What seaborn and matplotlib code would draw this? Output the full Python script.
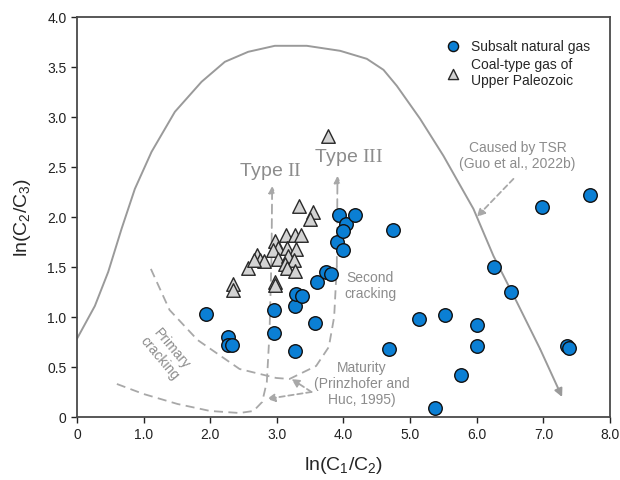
import numpy as np
import pandas as pd
import matplotlib
matplotlib.use("Agg")
import matplotlib.pyplot as plt
import seaborn as sns

sns.set_theme(style="ticks")
plt.rcParams['font.family'] = ['Liberation Sans', 'DejaVu Sans']
plt.rcParams['mathtext.fontset'] = 'custom'
plt.rcParams['mathtext.rm'] = 'Liberation Sans'
plt.rcParams['mathtext.it'] = 'Liberation Sans'
plt.rcParams['mathtext.tt'] = 'Liberation Serif'

# Subsalt natural gas
sub_x = [1.93, 2.27, 2.27, 2.33, 2.96, 2.96, 3.28, 3.28, 3.29, 3.38, 3.57, 3.61,
         3.74, 3.82, 3.90, 3.93, 4.04, 3.99, 3.99, 4.17, 4.75, 4.69, 5.13, 5.38,
         5.52, 5.76, 6.00, 6.00, 6.26, 6.51, 6.98, 7.70, 7.36, 7.39]
sub_y = [1.03, 0.80, 0.715, 0.715, 1.07, 0.84, 0.655, 1.11, 1.23, 1.21, 0.94, 1.35,
         1.45, 1.43, 1.75, 2.02, 1.93, 1.86, 1.67, 2.02, 1.87, 0.68, 0.98, 0.09,
         1.02, 0.42, 0.92, 0.705, 1.50, 1.25, 2.10, 2.22, 0.71, 0.69]

# Coal-type gas of Upper Paleozoic
coal_x = [3.77, 3.34, 3.55, 3.50, 3.14, 3.27, 3.37, 2.97, 3.02, 2.95, 3.16, 3.29,
          2.70, 2.75, 2.80, 3.02, 3.17, 3.26, 3.12, 3.15, 2.56, 3.28, 2.97, 2.34,
          2.34, 2.97, 2.65]
coal_y = [2.81, 2.11, 2.05, 1.98, 1.82, 1.82, 1.82, 1.76, 1.69, 1.67, 1.69, 1.68,
          1.62, 1.57, 1.56, 1.58, 1.61, 1.57, 1.53, 1.49, 1.49, 1.46, 1.35, 1.33,
          1.27, 1.32, 1.57]

# Outer envelope (solid gray), ends with arrow
env_x = [0.0, 0.27, 0.47, 0.67, 0.87, 1.12, 1.47, 1.87, 2.22, 2.57, 2.97, 3.45,
         3.95, 4.35, 4.60, 4.80, 5.15, 5.50, 5.95, 6.25, 6.60, 6.95, 7.28]
env_y = [0.78, 1.11, 1.45, 1.88, 2.28, 2.65, 3.05, 3.35, 3.55, 3.65, 3.71, 3.71,
         3.66, 3.58, 3.47, 3.31, 2.98, 2.61, 2.08, 1.61, 1.15, 0.68, 0.20]

# Lower dashed curve -> Type II arrow
t2_x = [0.60, 1.00, 1.51, 2.00, 2.44, 2.65, 2.78, 2.85, 2.89, 2.92, 2.93]
t2_y = [0.33, 0.23, 0.13, 0.06, 0.04, 0.06, 0.15, 0.35, 0.84, 1.60, 2.31]

# Upper dashed curve -> Type III arrow
t3_x = [1.11, 1.39, 1.81, 2.44, 2.99, 3.19, 3.59, 3.78, 3.86, 3.90, 3.91]
t3_y = [1.48, 1.07, 0.77, 0.48, 0.39, 0.38, 0.51, 0.70, 1.00, 1.51, 2.41]

df_sub = pd.DataFrame({"x": sub_x, "y": sub_y})
df_coal = pd.DataFrame({"x": coal_x, "y": coal_y})

fig = plt.figure(figsize=(6.2, 4.81), dpi=100)
ax = fig.add_axes([0.124, 0.131, 0.86, 0.832])

gray = "#9a9a9a"
ax.plot(env_x[:-1], env_y[:-1], color=gray, lw=1.4, zorder=1,
        solid_joinstyle="round")
ax.annotate("", xy=(env_x[-1], env_y[-1]), xytext=(env_x[-2], env_y[-2]),
            arrowprops=dict(arrowstyle="-|>", color=gray, lw=1.4,
                            mutation_scale=12, shrinkA=0, shrinkB=0), zorder=1)

dgray = "#a8a8a8"
for cx, cy in [(t2_x, t2_y), (t3_x, t3_y)]:
    ax.plot(cx[:-1], cy[:-1], color=dgray, lw=1.3, ls=(0, (5, 3)), zorder=1)
    ax.annotate("", xy=(cx[-1], cy[-1]), xytext=(cx[-2], cy[-2]),
                arrowprops=dict(arrowstyle="-|>", color=dgray, lw=1.3, ls=(0, (5, 3)),
                                mutation_scale=10, shrinkA=0, shrinkB=0), zorder=1)

# Maturity arrows
for tx, ty in [(2.85, 0.18), (3.22, 0.38)]:
    ax.annotate("", xy=(tx, ty), xytext=(3.52, 0.25),
                arrowprops=dict(arrowstyle="-|>", color=dgray, lw=1.3, ls=(0, (3, 2)),
                                mutation_scale=12, shrinkA=0, shrinkB=0), zorder=1)
# TSR arrow
ax.annotate("", xy=(6.00, 2.00), xytext=(6.55, 2.38),
            arrowprops=dict(arrowstyle="-|>", color=dgray, lw=1.3, ls=(0, (3, 2)),
                            mutation_scale=12, shrinkA=0, shrinkB=0), zorder=1)

sns.scatterplot(data=df_coal, x="x", y="y", marker="^", s=95, color="#d3d3d3",
                edgecolor="#2a2a2a", linewidth=1.0, ax=ax, zorder=3,
                label="Coal-type gas of\nUpper Paleozoic")
sns.scatterplot(data=df_sub, x="x", y="y", marker="o", s=95, color="#0b7fd4",
                edgecolor="#111111", linewidth=1.0, ax=ax, zorder=4,
                label="Subsalt natural gas")

tc = "#8c8c8c"
ax.text(2.90, 2.46, r"Type $\mathtt{II}$", fontsize=14, color=tc, ha="center", va="center")
ax.text(4.07, 2.60, r"Type $\mathtt{III}$", fontsize=14, color=tc, ha="center", va="center")
ax.text(4.40, 1.32, "Second\ncracking", fontsize=10, color=tc, ha="center", va="center",
        linespacing=1.2)
ax.text(1.33, 0.64, "Primary\ncracking", fontsize=10, color=tc, ha="center", va="center",
        rotation=-50, linespacing=1.1)
ax.text(4.27, 0.34, "Maturity\n(Prinzhofer and\nHuc, 1995)", fontsize=10, color=tc,
        ha="center", va="center", linespacing=1.2)
ax.text(6.61, 2.62, "Caused by TSR\n(Guo et al., 2022b)", fontsize=10, color=tc,
        ha="center", va="center", linespacing=1.2)

ax.set_xlim(0, 8)
ax.set_ylim(0, 4)
xt = [0, 1, 2, 3, 4, 5, 6, 7, 8]
xtl = ["0", "1.0", "2.0", "3.0", "4.0", "5.0", "6.0", "7.0", "8.0"]
yt = [0, 0.5, 1.0, 1.5, 2.0, 2.5, 3.0, 3.5, 4.0]
ytl = ["0", "0.5", "1.0", "1.5", "2.0", "2.5", "3.0", "3.5", "4.0"]
ax.set_xticks(xt, xtl)
ax.set_yticks(yt, ytl)
ax.tick_params(direction="out", length=4, width=1, labelsize=10, colors="#222222")
for sp in ax.spines.values():
    sp.set_visible(True)
    sp.set_color("#4a4a4a")
    sp.set_linewidth(1.3)
ax.set_xlabel(r"ln(C$_1$/C$_2$)", fontsize=14, labelpad=9)
ax.set_ylabel(r"ln(C$_2$/C$_3$)", fontsize=14, labelpad=10)

h, l = ax.get_legend_handles_labels()
leg = ax.legend(h[::-1], l[::-1], loc="upper right", bbox_to_anchor=(0.98, 0.97),
                frameon=False, fontsize=10, handletextpad=0.3, markerscale=0.75,
                labelspacing=0.3, borderaxespad=0.3)
for t in leg.get_texts():
    t.set_linespacing(1.2)

fig.savefig("out.png", dpi=100)
